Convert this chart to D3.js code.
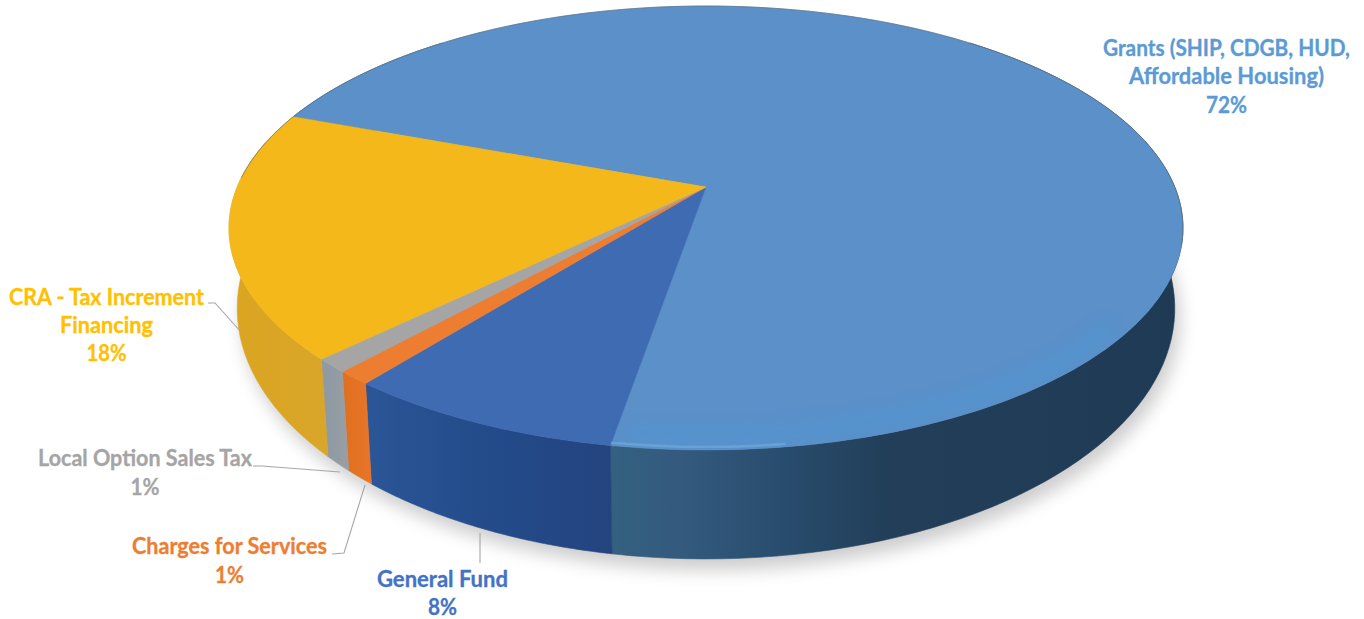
<!DOCTYPE html>
<html><head><meta charset="utf-8">
<script src="https://cdn.jsdelivr.net/npm/d3@7/dist/d3.min.js"></script>
<style>html,body{margin:0;padding:0;background:#fff;overflow:hidden}svg{display:block}</style>
</head><body><svg id="c" width="1364" height="619"></svg>
<script>
// ---- data ----
const categories = ["Grants (SHIP, CDGB, HUD, Affordable Housing)", "General Fund", "Charges for Services", "Local Option Sales Tax", "CRA - Tax Increment Financing"];
const shares = [72, 8, 1, 1, 18];
const percentLabels = ["72%", "8%", "1%", "1%", "18%"];
const labelLines = [["Grants (SHIP, CDGB, HUD,", "Affordable Housing)", "72%"], ["General Fund", "8%"], ["Charges for Services", "1%"], ["Local Option Sales Tax", "1%"], ["CRA - Tax Increment", "Financing", "18%"]];
const topColors = ["#5b90c9", "#3e6bb2", "#ed7d31", "#a5a5a5", "#f4b81b"];
const textColors = ["#5b9bd5", "#4472c4", "#ed7d31", "#a5a5a5", "#ffc000"];
const sideStops = [
  [["0", "#33617f"], ["0.12", "#345a7e"], ["0.3", "#284d6e"], ["0.5", "#223e58"], ["0.8", "#213c56"], ["1", "#1f3a55"]],
  [["0", "#2a5596"], ["0.5", "#234b8a"], ["1", "#24447f"]],
  [["0", "#e0701f"], ["1", "#e8752a"]],
  [["0", "#8f9aa3"], ["1", "#989ea3"]],
  [["0", "#dba521"], ["1", "#d9a62a"]]
];
const labelAnchors = [[1226.5, [56, 84, 113]], [442.5, [587, 614.5]], [229.5, [554, 583]], [145, [466, 495]], [106.5, [305, 333, 361]]];
const labelWidths = [[247, 195, 41], [131, 29], [195, 29], [214, 29], [195, 93, 40]];
const leaderLines = [null, [[480, 533], [480, 563]], [[365, 485], [344, 553], [332, 554]], [[340, 472], [262, 466], [253, 466]], [[241, 332], [215, 303], [208, 303]]];

// ---- projection of the tilted disc ----
const deg = Math.PI / 180;
const startDeg = 290.4;
const topDisc = {cx: 706, A: 468.8, a: 179.9, b: 187, c: -0.1847};
const botDisc = {cx: 706, A: 460.7, a: 193.5, b: 262.2, c: -0.1847};
function project(g, t) {
  const x = Math.sin(t), y = -Math.cos(t), w = 1 + g.c * y;
  return [g.cx + g.A * x / w, (g.a * y + g.b) / w];
}
const arcPts = (g, a0, a1) => d3.range(0, 81).map(i => project(g, a0 + (a1 - a0) * i / 80));
const line = d3.line();

const pie = d3.pie().sort(null).value(d => d).startAngle(startDeg * deg).endAngle((startDeg + 360) * deg);
const arcs = pie(shares);

const svg = d3.select("#c");
const defs = svg.append("defs");
const sh = defs.append("filter").attr("id", "shadow").attr("x", "-10%").attr("y", "-10%").attr("width", "120%").attr("height", "125%");
sh.append("feGaussianBlur").attr("stdDeviation", 9);
const edge = defs.append("filter").attr("id", "edge").attr("x", "-5%").attr("y", "-5%").attr("width", "110%").attr("height", "110%");
edge.append("feGaussianBlur").attr("stdDeviation", 0.6);
const glow = defs.append("filter").attr("id", "glow").attr("x", "-10%").attr("y", "-20%").attr("width", "120%").attr("height", "140%");
glow.append("feGaussianBlur").attr("stdDeviation", 7);

// ground shadow
svg.append("path")
  .attr("d", line(d3.range(0, 200).map(i => { const p = project(botDisc, i / 200 * 2 * Math.PI); return [p[0] + 5, p[1] + 11]; })) + "Z")
  .attr("fill", "#000").attr("opacity", 0.2).attr("filter", "url(#shadow)");

// side walls, drawn from the pie's own angles
const sideX = [[610, 1175], [372, 610], [345, 372], [330, 345], [238, 330]];
arcs.forEach((d, i) => {
  const g = defs.append("linearGradient").attr("id", "side" + i).attr("gradientUnits", "userSpaceOnUse")
    .attr("x1", sideX[i][0]).attr("x2", sideX[i][1]).attr("y1", 0).attr("y2", 0);
  sideStops[i].forEach(s => g.append("stop").attr("offset", s[0]).attr("stop-color", s[1]));
});
arcs.forEach((d, i) => {
  const a0 = d.startAngle, a1 = d.endAngle;
  const lo = Math.max(a0, 40 * deg), hi = Math.min(a1, 320 * deg);
  const ranges = [];
  if (lo < hi) ranges.push([lo, hi]);
  const lo2 = Math.max(a0 - 2 * Math.PI, 40 * deg), hi2 = Math.min(a1 - 2 * Math.PI, 320 * deg);
  if (lo2 < hi2) ranges.push([lo2, hi2]);
  ranges.forEach(r => {
    const pts = arcPts(topDisc, r[0], r[1]).concat(arcPts(botDisc, r[1], r[0]));
    svg.append("path").attr("d", line(pts) + "Z").attr("fill", "url(#side" + i + ")").attr("stroke", "url(#side" + i + ")").attr("stroke-width", 0.6);
  });
});

// top face wedges
const apex = [topDisc.cx, topDisc.b];
const clip = defs.append("clipPath").attr("id", "face");
clip.append("path").attr("d", line(arcPts(topDisc, 0, 2 * Math.PI)) + "Z");
arcs.forEach((d, i) => {
  svg.append("path")
    .attr("d", line([apex].concat(arcPts(topDisc, d.startAngle, d.endAngle))) + "Z")
    .attr("fill", topColors[i]).attr("stroke", topColors[i]).attr("stroke-width", 0.5).attr("stroke-linejoin", "round");
});

// soft brighter band inside the front of the grants wedge
const grants = arcs[0];
const band = Object.assign({}, topDisc, {A: topDisc.A - 14, a: topDisc.a - 12});
svg.append("g").attr("clip-path", "url(#face)").append("path")
  .attr("d", line(arcPts(band, 128 * deg, grants.endAngle - 2 * Math.PI - 1.5 * deg)))
  .attr("fill", "none").attr("stroke", "#4f98d4").attr("stroke-width", 16).attr("opacity", 0.55).attr("filter", "url(#glow)");

// bevel highlight along the front rim of the top face
const rimCol = ["#6aa6da", "#6f93cf", "#f5955a", "#bdbdbd", "#f7d21a"];
arcs.forEach((d, i) => {
  let r0 = d.startAngle, r1 = d.endAngle;
  if (i === 0) { r0 = 172 * deg; r1 = d.endAngle - 2 * Math.PI; }
  else { r1 = Math.min(r1, 272 * deg); }
  if (r0 >= r1) return;
  const inner = Object.assign({}, topDisc, {A: topDisc.A - 3, a: topDisc.a - 2.5});
  svg.append("path").attr("d", line(arcPts(inner, r0, r1))).attr("fill", "none")
    .attr("stroke", rimCol[i]).attr("stroke-width", 2.6).attr("opacity", 0.85).attr("filter", "url(#edge)");
});
// thin dark outline on the back of the disc
svg.append("path").attr("d", line(arcPts(topDisc, startDeg * deg - 2 * Math.PI - 18 * deg, 105 * deg)))
  .attr("fill", "none").attr("stroke", "#5c6b78").attr("stroke-width", 1).attr("opacity", 0.6);

// leader lines
leaderLines.forEach(l => {
  if (!l) return;
  svg.append("path").attr("d", line(l)).attr("fill", "none").attr("stroke", "#a6a6a6").attr("stroke-width", 1.1);
});

// labels
labelLines.forEach((lines, i) => {
  const [x, ys] = labelAnchors[i];
  lines.forEach((t, j) => {
    svg.append("text").attr("x", x).attr("y", ys[j]).attr("text-anchor", "middle")
      .attr("font-family", "Lato, 'Open Sans', sans-serif").attr("font-weight", 700).attr("font-size", 22)
      .attr("textLength", labelWidths[i][j]).attr("lengthAdjust", "spacingAndGlyphs")
      .attr("fill", textColors[i]).attr("stroke", textColors[i]).attr("stroke-width", 0.3).text(t);
  });
});
</script></body></html>
